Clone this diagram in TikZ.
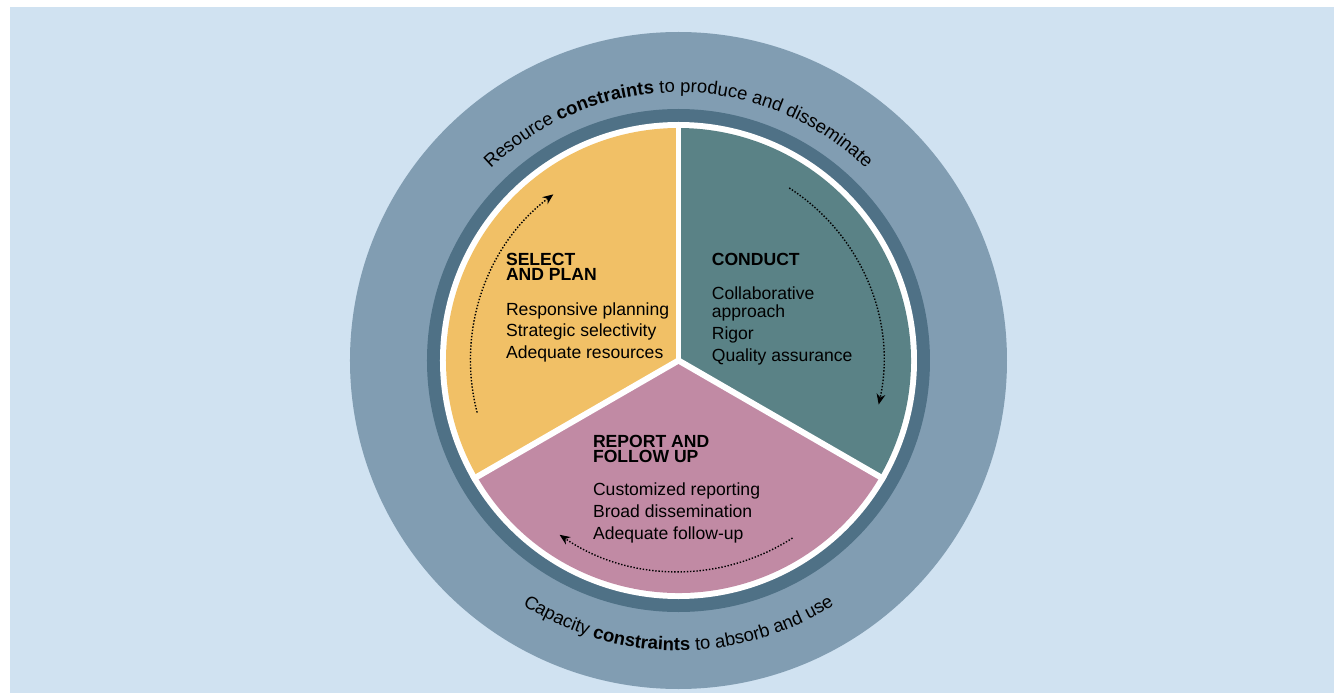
\documentclass[tikz,border=0pt]{standalone}
\usepackage{fontspec}
\setmainfont{Liberation Sans}
\usetikzlibrary{arrows.meta,decorations.text}

\definecolor{bgblue}{RGB}{208,226,241}
\definecolor{ringouter}{RGB}{129,157,178}
\definecolor{ringinner}{RGB}{79,113,134}
\definecolor{planyellow}{RGB}{241,192,102}
\definecolor{conductteal}{RGB}{90,130,134}
\definecolor{reportpink}{RGB}{193,138,164}

\newcommand{\ringfont}{\fontsize{10.5}{12}\selectfont}

\tikzset{
    headtext/.style={anchor=north west, inner sep=0pt, align=left, font=\fontsize{10}{8.3}\selectfont\bfseries},
    bodytext/.style={anchor=north west, inner sep=0pt, align=left, font=\fontsize{10}{12.4}\selectfont},
    cyclearrow/.style={densely dotted, line width=0.8pt, -{Stealth[length=6pt,width=5pt]}},
    divider/.style={white, line width=3.4pt},
}

\begin{document}
\begin{tikzpicture}
        % 画布大小
        \useasboundingbox (-13.57,-6.67) rectangle (13.15,7.21);
        \fill[white] (-13.57,-6.67) rectangle (13.15,7.21);
        \fill[bgblue] (-13.37,-6.65) rectangle (13.11,7.07);  % 浅蓝底色

        % 圆心
        \coordinate (O) at (0,0);

        % 外圈和内圈
        \fill[ringouter] (O) circle (6.57);
        \fill[ringinner] (O) circle (5.03);
        \fill[white] (O) circle (4.77);

        % 三个扇形
        \fill[planyellow] (O) -- (90:4.65) arc[start angle=90, end angle=210, radius=4.65] -- cycle;
        \fill[conductteal] (O) -- (-30:4.65) arc[start angle=-30, end angle=90, radius=4.65] -- cycle;
        \fill[reportpink] (O) -- (210:4.65) arc[start angle=210, end angle=330, radius=4.65] -- cycle;

        % 白色分隔线
        \foreach \a in {90,210,330}
            \draw[divider] (O) -- (\a:4.77);

        % 环上的文字
        \path[decorate, decoration={text along path, text align=center,
            text={|\ringfont|Resource |\ringfont\bfseries|constraints|\ringfont| to produce and disseminate}}]
            (150:5.36) arc[start angle=150, end angle=30, radius=5.36];
        \path[decorate, decoration={text along path, text align=center,
            text={|\ringfont|Capacity |\ringfont\bfseries|constraints|\ringfont| to absorb and use}}]
            (200:5.8) arc[start angle=200, end angle=340, radius=5.8];

        % 文字位置
        \coordinate (S) at (-3.456, 2.15);   % SELECT 标题
        \coordinate (S1) at (-3.456, 1.17);  % SELECT 内容
        \coordinate (C) at (0.66, 2.15);     % CONDUCT 标题
        \coordinate (C1) at (0.66, 1.48);    % CONDUCT 内容
        \coordinate (R) at (-1.716, -1.49);  % REPORT 标题
        \coordinate (R1) at (-1.716, -2.44); % REPORT 内容

        % 标题和内容
        \node[headtext] (selecthead) at (S) {SELECT\\AND PLAN};
        \node[bodytext] (selectbody) at (S1) {Responsive planning\\Strategic selectivity\\Adequate resources};
        \node[headtext] (conducthead) at (C) {CONDUCT};
        \node[bodytext] (conductbody) at (C1) {Collaborative\\[-2.2pt]approach\\Rigor\\Quality assurance};
        \node[headtext] (reporthead) at (R) {REPORT AND\\FOLLOW UP};
        \node[bodytext] (reportbody) at (R1) {Customized reporting\\Broad dissemination\\Adequate follow-up};

        % 循环箭头
        \draw[cyclearrow] (194.5:4.16) arc[start angle=194.5, end angle=127, radius=4.16];
        \draw[cyclearrow] (57.3:4.1) arc[start angle=57.3, end angle=-12.4, radius=4.1];
        \draw[cyclearrow] (-57.3:4.22) arc[start angle=-57.3, end angle=-124.3, radius=4.22];
    \end{tikzpicture}
\end{document}
